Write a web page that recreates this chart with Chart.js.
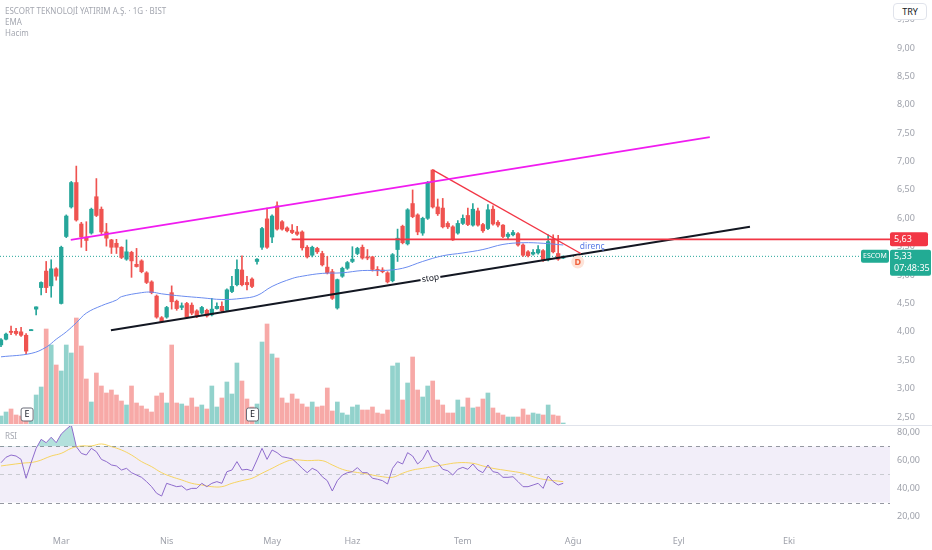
<!DOCTYPE html>
<html>
<head>
<meta charset="utf-8">
<script src="https://cdn.jsdelivr.net/npm/chart.js@4.4.1/dist/chart.umd.min.js"></script>
<style>
    body { margin: 0; background: #fff; }
    #wrap { position: relative; width: 932px; height: 550px; overflow: hidden; font-family: "Noto Sans", sans-serif; }
    canvas { position: absolute; left: 0; }
    .legend { position: absolute; left: 5px; font-size: 8px; line-height: 11px; color: #a4a7b0; }
    #try { position: absolute; left: 893px; top: 3px; width: 34px; height: 17px; box-sizing: border-box;
           border: 1px solid #e0e3eb; border-radius: 4px; background: #fff; font-size: 9px; line-height: 15px;
           text-align: center; color: #131722; }
</style>
</head>
<body>
<div id="wrap">
    <canvas id="priceChart" width="932" height="425" style="top:0"></canvas>
    <canvas id="rsiChart" width="932" height="125" style="top:425px"></canvas>
    <div class="legend" style="top:5px">ESCORT TEKNOLOJİ YATIRIM A.Ş. · 1G · BIST<br>EMA<br>Hacim</div>
    <div class="legend" style="top:430px">RSI</div>
    <div id="try">TRY</div>
</div>
<script>
// daily candles, oldest first
const openP = [3.77, 3.87, 4.01, 4.01, 4.00, 3.94, 4.02, 4.40, 4.78, 5.07,
    4.81, 5.11, 4.50, 5.68, 6.20, 6.63, 5.90, 5.67, 5.74, 6.38,
    6.16, 5.76, 5.62, 5.56, 5.49, 5.28, 5.40, 5.19, 5.25, 5.04,
    4.88, 4.63, 4.25, 4.26, 4.69, 4.54, 4.43, 4.50, 4.47, 4.37,
    4.33, 4.38, 4.30, 4.41, 4.45, 4.38, 4.71, 4.83, 5.09, 4.87,
    4.93, 5.24, 5.49, 5.99, 5.67, 6.22, 5.94, 5.83, 5.79, 5.76,
    5.76, 5.49, 5.35, 5.47, 5.38, 5.14, 5.06, 4.42, 4.98, 5.12,
    5.24, 5.38, 5.49, 5.32, 5.32, 5.10, 5.09, 5.04, 4.90, 5.45,
    5.86, 5.55, 6.26, 6.06, 5.74, 6.00, 6.85, 6.20, 6.18, 5.91,
    5.85, 5.74, 5.91, 6.05, 5.88, 6.13, 5.89, 5.82, 6.16, 5.93,
    5.88, 5.68, 5.71, 5.73, 5.53, 5.41, 5.37, 5.39, 5.43, 5.27,
    5.62, 5.38, 5.30];
const highP = [3.88, 3.98, 4.10, 4.06, 4.08, 3.97, 4.04, 4.44, 4.88, 5.24,
    5.27, 5.13, 5.51, 6.06, 6.65, 6.92, 5.93, 5.94, 6.18, 6.70,
    6.20, 5.91, 5.63, 5.63, 5.50, 5.62, 5.42, 5.47, 5.27, 5.06,
    4.90, 4.65, 4.27, 4.45, 4.81, 4.56, 4.51, 4.52, 4.51, 4.39,
    4.45, 4.40, 4.59, 4.51, 4.53, 4.76, 4.98, 5.27, 5.34, 4.98,
    4.95, 5.29, 5.84, 6.18, 6.06, 6.29, 5.96, 5.85, 5.89, 5.86,
    5.78, 5.52, 5.51, 5.49, 5.42, 5.33, 5.10, 4.93, 5.14, 5.24,
    5.50, 5.49, 5.53, 5.45, 5.33, 5.15, 5.13, 5.06, 5.38, 5.81,
    5.88, 6.17, 6.50, 6.08, 6.02, 6.65, 6.86, 6.34, 6.35, 5.94,
    5.87, 5.96, 6.06, 6.18, 6.26, 6.18, 5.91, 6.24, 6.22, 5.96,
    5.89, 5.75, 5.79, 5.75, 5.55, 5.43, 5.45, 5.52, 5.45, 5.71,
    5.71, 5.70, 5.34];
const lowP = [3.74, 3.86, 3.95, 3.94, 3.92, 3.61, 4.02, 4.30, 4.65, 4.69,
    4.61, 4.91, 4.49, 5.66, 6.18, 5.95, 5.49, 5.43, 5.72, 6.03,
    5.73, 5.51, 5.38, 5.38, 5.29, 5.26, 4.96, 5.14, 5.04, 4.85,
    4.67, 4.24, 4.17, 4.24, 4.40, 4.38, 4.39, 4.24, 4.30, 4.25,
    4.31, 4.26, 4.28, 4.40, 4.35, 4.36, 4.69, 4.81, 4.81, 4.74,
    4.78, 5.19, 5.45, 5.47, 5.57, 5.79, 5.79, 5.76, 5.73, 5.70,
    5.44, 5.30, 5.32, 5.38, 5.16, 5.02, 4.57, 4.40, 4.96, 5.10,
    5.22, 5.36, 5.28, 5.27, 5.07, 4.99, 5.04, 4.86, 4.88, 5.24,
    5.55, 5.53, 6.01, 5.71, 5.70, 5.98, 6.18, 6.05, 5.83, 5.82,
    5.61, 5.72, 5.89, 5.87, 5.86, 5.86, 5.75, 5.80, 5.88, 5.85,
    5.66, 5.64, 5.69, 5.51, 5.33, 5.32, 5.35, 5.37, 5.24, 5.25,
    5.39, 5.26, 5.29];
const closeP = [3.86, 3.96, 3.99, 3.97, 3.94, 3.66, 4.04, 4.44, 4.87, 4.78,
    5.11, 4.98, 5.49, 6.04, 6.63, 5.97, 5.67, 5.61, 6.16, 6.05,
    5.76, 5.65, 5.49, 5.49, 5.31, 5.41, 5.25, 5.15, 5.06, 4.87,
    4.69, 4.26, 4.18, 4.43, 4.53, 4.41, 4.46, 4.26, 4.33, 4.27,
    4.43, 4.28, 4.40, 4.45, 4.37, 4.74, 4.80, 5.10, 4.83, 4.83,
    4.80, 5.28, 5.82, 5.49, 6.04, 5.81, 5.81, 5.78, 5.75, 5.72,
    5.48, 5.32, 5.49, 5.41, 5.18, 5.04, 4.59, 4.92, 5.12, 5.22,
    5.28, 5.47, 5.30, 5.30, 5.10, 5.08, 5.06, 4.88, 5.36, 5.65,
    5.57, 6.15, 6.03, 5.76, 6.00, 6.62, 6.20, 6.08, 5.85, 5.85,
    5.62, 5.91, 6.00, 5.89, 6.16, 5.88, 5.78, 6.15, 5.90, 5.88,
    5.68, 5.72, 5.75, 5.53, 5.35, 5.34, 5.40, 5.45, 5.26, 5.59,
    5.41, 5.28, 5.33];
// volume, millions
const volume = [0.8, 1.2, 1.5, 0.9, 0.8, 1.2, 0.4, 2.9, 3.7, 9.5,
    7.9, 5.9, 5.3, 7.9, 7.1, 10.6, 7.8, 4.5, 2.2, 5.1,
    3.8, 3.1, 3.4, 2.9, 2.3, 1.9, 3.8, 2.1, 1.8, 1.5,
    1.2, 2.8, 3.1, 2.1, 7.9, 2.1, 2.0, 1.8, 2.6, 1.7,
    1.9, 1.5, 3.8, 1.7, 2.6, 4.2, 3.0, 6.1, 4.3, 2.5,
    1.7, 2.0, 8.2, 10.0, 7.0, 6.6, 2.6, 2.1, 3.0, 2.5,
    2.0, 1.7, 2.2, 1.7, 1.8, 3.6, 1.3, 2.2, 1.1, 0.9,
    1.7, 1.9, 1.4, 1.4, 1.7, 1.1, 1.0, 1.4, 5.8, 6.1,
    2.4, 4.1, 6.7, 3.4, 2.7, 3.8, 4.3, 2.4, 1.9, 1.1,
    1.1, 2.4, 1.7, 2.6, 1.6, 1.7, 2.5, 3.1, 1.6, 1.1,
    0.9, 0.7, 0.7, 0.7, 1.5, 0.9, 1.1, 1.0, 0.9, 1.9,
    0.9, 0.8, 0.1];

// EMA at some bars
const emaIdx = [0, 6, 9, 11, 13, 15, 17, 20, 23, 24, 28, 30, 32, 36, 40, 44, 48,
    51, 54, 58, 60, 64, 68, 72, 76, 80, 84, 88, 92, 96, 100, 104, 108, 112];
const emaVal = [3.56, 3.62, 3.73, 3.87, 4.00, 4.16, 4.33, 4.46, 4.56, 4.62, 4.69, 4.70, 4.67, 4.63, 4.60, 4.57, 4.59,
    4.64, 4.80, 4.94, 4.98, 5.03, 5.04, 5.08, 5.08, 5.12, 5.24, 5.34, 5.39, 5.45, 5.54, 5.57, 5.56, 5.53];

const rsiVal = [58.4, 62.3, 63.9, 63.2, 60.8, 47.3, 58.4, 68.7, 75.1, 72.7,
    76.6, 72.7, 78.9, 82.3, 85.4, 69.9, 65.1, 63.9, 68.7, 66.3,
    60.8, 59.2, 56.8, 56.1, 53.2, 54.4, 51.3, 49.6, 48.0, 44.9,
    41.3, 36.6, 34.6, 43.7, 42.5, 41.3, 41.8, 38.9, 40.1, 40.1,
    43.7, 41.3, 43.7, 44.9, 43.7, 52.0, 53.2, 59.2, 53.2, 53.7,
    52.5, 60.4, 68.7, 60.8, 67.5, 65.6, 62.7, 62.0, 61.2, 58.0,
    54.4, 51.3, 54.4, 52.7, 48.4, 45.6, 38.2, 45.6, 49.6, 51.3,
    52.0, 54.9, 51.3, 51.3, 47.3, 46.6, 45.6, 43.2, 54.4, 59.2,
    57.5, 65.6, 63.2, 57.5, 60.8, 67.5, 59.9, 58.4, 53.7, 52.7,
    49.6, 53.7, 55.1, 53.7, 57.5, 53.2, 51.3, 56.8, 52.0, 51.3,
    48.0, 48.0, 48.4, 44.9, 41.3, 41.3, 42.5, 43.7, 40.1, 48.9,
    44.9, 42.5, 43.7];
const rsiMaIdx = [0, 4, 7, 10, 12, 14, 16, 18, 20, 22, 24, 26, 28, 30, 32, 34, 36, 38, 40, 42,
    44, 46, 48, 50, 52, 54, 56, 58, 61, 64, 66, 68, 70, 72, 74, 76, 78, 80, 82, 84,
    86, 88, 91, 94, 96, 98, 101, 104, 106, 108, 112];
const rsiMaVal = [56.1, 58.0, 59.2, 63.2, 65.1, 68.7, 70.4, 70.4, 71.8, 69.9, 67.5, 63.9, 59.2, 55.6, 51.3, 48.4, 46.1, 43.7, 42.5, 41.3,
    41.3, 43.7, 45.6, 47.3, 50.9, 54.4, 58.0, 60.4, 59.9, 59.9, 56.8, 53.7, 52.0, 50.9, 49.6, 48.4, 48.0, 50.9, 53.2, 54.4,
    55.6, 56.8, 58.4, 58.0, 56.1, 54.4, 52.7, 50.9, 48.4, 46.6, 44.9];

const priceTicks = [2.5, 3.0, 3.5, 4.0, 4.5, 5.0, 5.5, 6.0, 6.5, 7.0, 7.5, 8.0, 8.5, 9.0, 9.5];
const rsiTicks = [20, 40, 60, 80];
const monthTicks = [12, 33, 54, 70, 92, 114, 135, 157];
const monthLabels = ["Mar", "Nis", "May", "Haz", "Tem", "Ağu", "Eyl", "Eki"];

// hand drawn lines, [bar, price]
const channelTop = [[13.9, 5.62], [141.2, 7.43]];
const stopLine = [[21.9, 4.03], [149.2, 5.85]];
const downTrend = [[86.1, 6.85], [115.5, 5.38]];
const resistance = 5.63;
const resistanceFrom = 57.9;
const lastPrice = 5.33;
const earningsAt = [5.2, 50.1];

const X_MIN = -0.2, X_MAX = 177.1;
const UP = "#26a69a", DOWN = "#ef5350";
const AXIS_TEXT = "#9fa2ab";

Chart.defaults.font.family = "'Noto Sans', sans-serif";
Chart.defaults.font.size = 9;

const bars = openP.map((_, i) => i);
const isUp = bars.map(i => closeP[i] >= openP[i]);
const fmt = v => v.toFixed(2).replace(".", ",");

function pinAxis(s) {
    s.width = 42;
    s.paddingTop = 0;
    s.paddingBottom = 0;
}

function line(points, color, width, order, dash) {
    return {
        type: "line",
        data: points.map(p => ({ x: p[0], y: p[1] })),
        borderColor: color,
        borderWidth: width,
        borderDash: dash || [],
        pointRadius: 0,
        order: order
    };
}

function box(ctx, x, y, w, h, r) {
    ctx.beginPath();
    if (ctx.roundRect) ctx.roundRect(x, y, w, h, r); else ctx.rect(x, y, w, h);
}

// markers and texts over the price pane
const priceOverlay = {
    id: "priceOverlay",
    afterDatasetsDraw(chart) {
        const { ctx, chartArea } = chart;
        const x = chart.scales.x, y = chart.scales.y;
        ctx.save();

        // earnings badges
        earningsAt.forEach(i => {
            const bx = x.getPixelForValue(i);
            box(ctx, bx - 6, chartArea.bottom - 16, 12, 13, 2);
            ctx.fillStyle = "#fff";
            ctx.fill();
            ctx.strokeStyle = "#6a6d78";
            ctx.lineWidth = 1;
            ctx.stroke();
            ctx.fillStyle = "#131722";
            ctx.font = "9px 'Noto Sans'";
            ctx.textAlign = "center";
            ctx.textBaseline = "middle";
            ctx.fillText("E", bx, chartArea.bottom - 9.5);
        });

        // "stop" on the lower trend line
        const x1 = x.getPixelForValue(stopLine[0][0]), y1 = y.getPixelForValue(stopLine[0][1]);
        const x2 = x.getPixelForValue(stopLine[1][0]), y2 = y.getPixelForValue(stopLine[1][1]);
        const t = 0.5;
        ctx.translate(x1 + (x2 - x1) * t, y1 + (y2 - y1) * t);
        ctx.rotate(Math.atan2(y2 - y1, x2 - x1));
        ctx.font = "8.5px 'Noto Sans'";
        ctx.fillStyle = "#fff";
        ctx.fillRect(-10, -5, 20, 10);
        ctx.fillStyle = "#131722";
        ctx.textAlign = "center";
        ctx.textBaseline = "middle";
        ctx.fillText("stop", 0, 0);
        ctx.setTransform(1, 0, 0, 1, 0, 0);

        // direnç label
        ctx.font = "8.5px 'Noto Sans'";
        ctx.fillStyle = "#5a7be6";
        ctx.textAlign = "left";
        ctx.fillText("direnç", x.getPixelForValue(115.3), y.getPixelForValue(5.51));

        // dividend marker
        const dx = x.getPixelForValue(114.9), dy = y.getPixelForValue(5.23);
        ctx.beginPath();
        ctx.arc(dx, dy, 6.5, 0, Math.PI * 2);
        ctx.fillStyle = "#fde3d8";
        ctx.fill();
        ctx.fillStyle = "#f0603a";
        ctx.font = "bold 9px 'Noto Sans'";
        ctx.textAlign = "center";
        ctx.fillText("D", dx, dy + 0.5);
        ctx.restore();
    },
    afterDraw(chart) {
        const { ctx, chartArea } = chart;
        const y = chart.scales.y;
        const left = chartArea.right;
        ctx.save();
        ctx.textBaseline = "middle";
        ctx.textAlign = "left";

        const ry = y.getPixelForValue(resistance);
        box(ctx, left, ry - 7, 38, 14, 2);
        ctx.fillStyle = "#f23645";
        ctx.fill();
        ctx.fillStyle = "#fff";
        ctx.font = "9px 'Noto Sans'";
        ctx.fillText(fmt(resistance), left + 4, ry + 0.5);

        const ly = y.getPixelForValue(lastPrice);
        box(ctx, left, ly - 6.5, 41, 26, 2);
        ctx.fillStyle = "#22ab94";
        ctx.fill();
        box(ctx, left - 29, ly - 6.5, 28, 13, 2);
        ctx.fill();
        ctx.fillStyle = "#fff";
        ctx.fillText(fmt(lastPrice), left + 4, ly);
        ctx.fillText("07:48:35", left + 4, ly + 12);
        ctx.font = "7px 'Noto Sans'";
        ctx.textAlign = "center";
        ctx.fillText("ESCOM", left - 15, ly);
        ctx.restore();
    }
};

new Chart(document.getElementById("priceChart"), {
    type: "bar",
    data: {
        datasets: [
            line(channelTop, "#f01cf0", 1.6, 0),
            line(downTrend, "#f23645", 1.4, 0),
            line([[resistanceFrom, resistance], [X_MAX, resistance]], "#f23645", 1.8, 0),
            line(stopLine, "#131722", 2, 0),
            {
                type: "line",
                data: emaIdx.map((v, k) => ({ x: v, y: emaVal[k] })),
                borderColor: "#6b8cef",
                borderWidth: 1,
                pointRadius: 0,
                tension: 0.4,
                order: 3
            },
            {
                label: "Bodies",
                data: bars.map(i => ({ x: i, y: [openP[i], closeP[i]] })),
                backgroundColor: isUp.map(u => u ? UP : DOWN),
                barThickness: 3.6,
                minBarLength: 1,
                grouped: false,
                order: 4
            },
            {
                label: "Wicks",
                data: bars.map(i => ({ x: i, y: [lowP[i], highP[i]] })),
                backgroundColor: isUp.map(u => u ? UP : DOWN),
                barThickness: 1,
                grouped: false,
                order: 5
            },
            line([[X_MIN, lastPrice], [X_MAX, lastPrice]], "#26a69a", 1, 6, [1, 2]),
            {
                label: "Hacim",
                yAxisID: "yv",
                data: bars.map(i => ({ x: i, y: volume[i] })),
                backgroundColor: isUp.map(u => u ? "rgba(38, 166, 154, 0.5)" : "rgba(239, 83, 80, 0.5)"),
                barThickness: 4,
                grouped: false,
                order: 7
            }
        ]
    },
    options: {
        responsive: false,
        animation: false,
        layout: { padding: { left: 0, right: 0, top: 0, bottom: 1 } },
        plugins: { legend: { display: false }, tooltip: { enabled: false } },
        scales: {
            x: { type: "linear", min: X_MIN, max: X_MAX, offset: false, display: false },
            y: {
                position: "right",
                min: 2.3768,
                max: 9.8455,
                afterBuildTicks: s => { s.ticks = priceTicks.map(v => ({ value: v })); },
                afterFit: pinAxis,
                grid: { display: false, drawTicks: false },
                border: { display: false },
                ticks: { padding: 7, color: AXIS_TEXT, callback: v => fmt(v) }
            },
            yv: { display: false, min: 0, max: 42.4 }
        }
    },
    plugins: [priceOverlay]
});

// RSI pane: bands and separator
const rsiBands = {
    id: "rsiBands",
    beforeDatasetsDraw(chart) {
        const { ctx, chartArea } = chart;
        const y = chart.scales.y;
        const y70 = y.getPixelForValue(70), y50 = y.getPixelForValue(50), y30 = y.getPixelForValue(30);
        ctx.save();
        ctx.fillStyle = "rgba(126, 87, 194, 0.1)";
        ctx.fillRect(chartArea.left, y70, chartArea.right - chartArea.left, y30 - y70);
        ctx.lineWidth = 1;
        ctx.setLineDash([4, 4]);
        [[y70, "#9598a1"], [y50, "#c9cbd1"], [y30, "#9598a1"]].forEach(([py, c]) => {
            ctx.strokeStyle = c;
            ctx.beginPath();
            ctx.moveTo(chartArea.left, Math.round(py) + 0.5);
            ctx.lineTo(chartArea.right, Math.round(py) + 0.5);
            ctx.stroke();
        });
        ctx.setLineDash([]);
        ctx.strokeStyle = "#e0e3eb";
        ctx.beginPath();
        ctx.moveTo(0, 0.5);
        ctx.lineTo(chart.width, 0.5);
        ctx.stroke();
        ctx.restore();
    }
};

new Chart(document.getElementById("rsiChart"), {
    type: "line",
    data: {
        datasets: [
            {
                label: "RSI",
                data: bars.map(i => ({ x: i, y: rsiVal[i] })),
                borderColor: "#8e6bcc",
                borderWidth: 1,
                pointRadius: 0,
                fill: { target: { value: 70 }, above: "rgba(38, 166, 154, 0.35)", below: "rgba(0, 0, 0, 0)" }
            },
            {
                label: "RSI MA",
                data: rsiMaIdx.map((v, k) => ({ x: v, y: rsiMaVal[k] })),
                borderColor: "rgba(247, 207, 70, 0.85)",
                borderWidth: 1,
                pointRadius: 0,
                tension: 0.4
            }
        ]
    },
    options: {
        responsive: false,
        animation: false,
        layout: { padding: { left: 0, right: 0, top: 1, bottom: 0 } },
        plugins: { legend: { display: false }, tooltip: { enabled: false } },
        scales: {
            x: {
                type: "linear",
                min: X_MIN,
                max: X_MAX,
                offset: false,
                afterBuildTicks: s => { s.ticks = monthTicks.map(v => ({ value: v })); },
                afterFit: s => { s.height = 20; s.paddingLeft = 0; s.paddingRight = 0; },
                grid: { display: false, drawTicks: false },
                border: { display: false },
                ticks: {
                    padding: 6,
                    autoSkip: false,
                    maxRotation: 0,
                    color: AXIS_TEXT,
                    callback: v => monthLabels[monthTicks.indexOf(v)]
                }
            },
            y: {
                position: "right",
                min: 10.36,
                max: 84.64,
                afterBuildTicks: s => { s.ticks = rsiTicks.map(v => ({ value: v })); },
                afterFit: pinAxis,
                grid: { display: false, drawTicks: false },
                border: { display: false },
                ticks: { padding: 7, color: AXIS_TEXT, callback: v => fmt(v) }
            }
        }
    },
    plugins: [rsiBands]
});
</script>
</body>
</html>
